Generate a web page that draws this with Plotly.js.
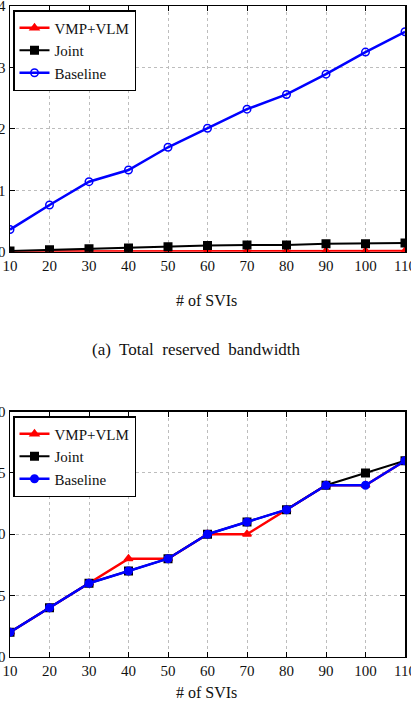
<!DOCTYPE html>
<html>
<head>
<meta charset="utf-8">
<script src="https://cdn.plot.ly/plotly-3.0.1.min.js"></script>
<style>
  html, body { margin: 0; padding: 0; background: #fff; }
  #chart { width: 411px; height: 723px; }
</style>
</head>
<body>
<div id="chart"></div>
<script>
// Number of SVIs on the x axis
var sviCounts = [10, 20, 30, 40, 50, 60, 70, 80, 90, 100, 110];

// (a) Total reserved bandwidth
var bwVmpVlm  = [0.005, 0.005, 0.006, 0.006, 0.007, 0.008, 0.008, 0.009, 0.01, 0.01, 0.01];
var bwJoint   = [0.01, 0.03, 0.05, 0.06, 0.08, 0.10, 0.11, 0.11, 0.13, 0.13, 0.14];
var bwBaseline = [0.36, 0.76, 1.14, 1.33, 1.70, 2.01, 2.32, 2.56, 2.89, 3.25, 3.58];

// (b) second metric
var cntVmpVlm  = [2, 4, 6, 8, 8, 10, 10, 12, 14, 14, 16];
var cntJoint   = [2, 4, 6, 7, 8, 10, 11, 12, 14, 15, 16];
var cntBaseline = [2, 4, 6, 7, 8, 10, 11, 12, 14, 14, 16];

var seriesNames = ['VMP+VLM', 'Joint', 'Baseline'];
var xTicks = [10, 20, 30, 40, 50, 60, 70, 80, 90, 100, 110];
var yTicksTop = [0, 1, 2, 3, 4];
var yTicksBottom = [0, 5, 10, 15, 20];

var W = 411, H = 723;
var serif = 'Liberation Serif';

function trace(y, name, color, symbol, xa, ya, leg, lw) {
  return {
    x: sviCounts, y: y, name: name, type: 'scatter', mode: 'lines+markers',
    xaxis: xa, yaxis: ya, legend: leg,
    line: { color: color, width: lw },
    marker: { color: color, symbol: symbol, size: 7.5, line: { color: color, width: 1.5 } }
  };
}

var data = [
  trace(bwVmpVlm, seriesNames[0], '#ff0000', 'triangle-up', 'x', 'y', 'legend', 2.5),
  trace(bwJoint, seriesNames[1], '#000000', 'square', 'x', 'y', 'legend', 2),
  trace(bwBaseline, seriesNames[2], '#0000ff', 'circle-open', 'x', 'y', 'legend', 2.5),
  trace(cntVmpVlm, seriesNames[0], '#ff0000', 'triangle-up', 'x2', 'y2', 'legend2', 2.5),
  trace(cntJoint, seriesNames[1], '#000000', 'square', 'x2', 'y2', 'legend2', 2),
  trace(cntBaseline, seriesNames[2], '#0000ff', 'circle', 'x2', 'y2', 'legend2', 2.5)
];

function px(v) { return v / W; }
function py(v) { return (H - v) / H; }

var axisCommon = {
  showline: true, linecolor: '#000', linewidth: 1.5, mirror: 'ticks',
  ticks: 'inside', ticklen: 5, tickcolor: '#000', tickwidth: 1,
  showgrid: true, gridcolor: '#bdbdbd', griddash: 'dot', gridwidth: 1,
  zeroline: false, ticklabeloverflow: 'allow',
  tickfont: { family: serif, size: 15, color: '#111' }
};

function xAxis(anchor) {
  return Object.assign({}, axisCommon, {
    domain: [px(10), px(405)], range: [10, 110], anchor: anchor,
    tickmode: 'array', tickvals: xTicks, ticktext: xTicks.map(String)
  });
}
function yAxis(anchor, dom, rng, tv) {
  return Object.assign({}, axisCommon, {
    domain: dom, range: rng, anchor: anchor, ticklabelstandoff: 0,
    tickmode: 'array', tickvals: tv, ticktext: tv.map(String)
  });
}

var legendCommon = {
  xanchor: 'left', yanchor: 'top', bgcolor: '#fff',
  bordercolor: '#000', borderwidth: 1.5,
  font: { family: serif, size: 15, color: '#111' },
  tracegroupgap: 0, itemwidth: 30
};

var layout = {
  width: W, height: H,
  margin: { l: 0, r: 0, t: 0, b: 0 },
  paper_bgcolor: '#fff', plot_bgcolor: '#fff',
  showlegend: true,
  xaxis: xAxis('y'),
  yaxis: yAxis('x', [py(251.7), py(6)], [0, 4], yTicksTop),
  xaxis2: xAxis('y2'),
  yaxis2: yAxis('x2', [py(656.7), py(411.7)], [0, 20], yTicksBottom),
  legend: Object.assign({}, legendCommon, { x: px(13), y: py(10) }),
  legend2: Object.assign({}, legendCommon, { x: px(13), y: py(416) }),
  annotations: [
    { text: '# of SVIs', xref: 'paper', yref: 'paper', x: px(206), y: py(300),
      showarrow: false, font: { family: serif, size: 16, color: '#111' } },
    { text: '(a)  Total  reserved  bandwidth', xref: 'paper', yref: 'paper', x: px(196), y: py(350),
      showarrow: false, font: { family: serif, size: 17, color: '#111' } },
    { text: '# of SVIs', xref: 'paper', yref: 'paper', x: px(206), y: py(703),
      showarrow: false, font: { family: serif, size: 16, color: '#111' } }
  ]
};

Plotly.newPlot('chart', data, layout, { displayModeBar: false, staticPlot: true });
</script>
</body>
</html>
